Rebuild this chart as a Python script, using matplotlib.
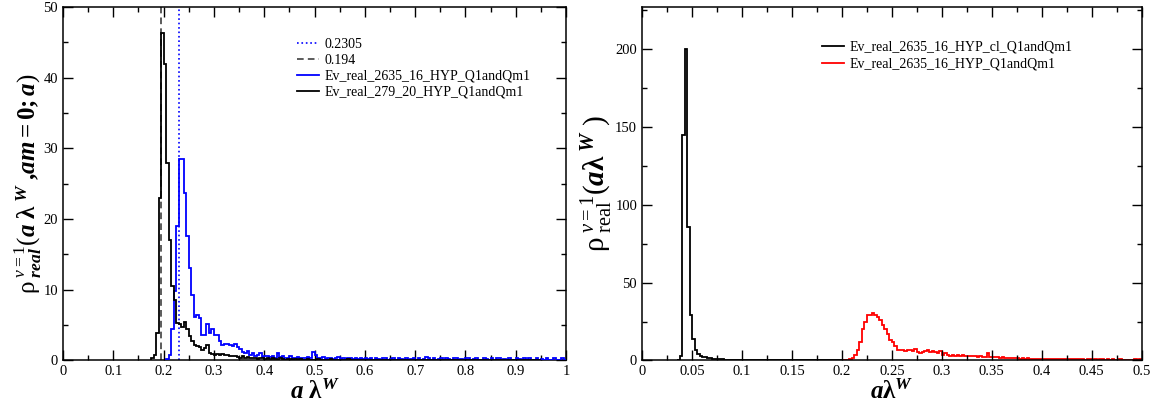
import matplotlib.pyplot as plt
import numpy as np

plt.rcParams['font.family'] = ['Liberation Serif', 'DejaVu Serif']
plt.rcParams['mathtext.fontset'] = 'custom'
plt.rcParams['mathtext.rm'] = 'Liberation Serif'
plt.rcParams['mathtext.it'] = 'Liberation Serif:italic'
plt.rcParams['mathtext.bf'] = 'Liberation Serif:bold'
plt.rcParams['mathtext.bfit'] = 'Liberation Serif:bold:italic'

# ---- left panel data: histogram, bin width 0.005 ----
left_bin = 0.005
black_left_start = 0.175
black_left = [
    0.3, 0.8, 3.9, 23.0, 46.3, 42.0, 28.0, 17.0, 10.5, 8.6,
    5.3, 5.1, 4.8, 5.4, 4.5, 3.4, 2.8, 2.2, 2.0, 1.9,
    1.5, 1.7, 2.2, 1.1, 0.9, 0.8, 0.9, 0.8, 0.85, 0.8,
    0.8, 0.6, 0.7, 0.6, 0.5, 0.4, 0.6, 0.3, 0.5, 0.4,
    0.3, 0.4, 0.2, 0.3, 0.4, 0.2, 0.3, 0.2, 0.3, 0.2,
    0.1, 0.3, 0.2, 0.1, 0.2, 0.2, 0.1, 0.2, 0.1, 0.2,
    0.1, 0.1, 0.2, 0.1, 0.1, 0.1, 0.2, 0.1, 0.0, 0.1,
    0.1, 0.2, 0.1, 0.0, 0.1, 0.1, 0.0, 0.1, 0.2, 0.1,
    0.0, 0.1, 0.1, 0.0, 0.1, 0.0, 0.1, 0.1, 0.0, 0.1,
    0.0, 0.1, 0.0, 0.1, 0.1, 0.0, 0.1, 0.0, 0.0, 0.1,
    0.1, 0.0, 0.1, 0.0, 0.0, 0.1, 0.0, 0.1, 0.0, 0.0,
    0.1, 0.0, 0.0, 0.1, 0.0, 0.0, 0.1, 0.0, 0.0, 0.0,
    0.1, 0.0, 0.0, 0.1, 0.0, 0.0, 0.0, 0.1, 0.0, 0.0,
    0.0, 0.1, 0.0, 0.0, 0.0, 0.1, 0.0, 0.0, 0.0, 0.0,
    0.1, 0.0, 0.0, 0.0, 0.0, 0.1, 0.0, 0.0, 0.0, 0.0,
    0.0, 0.1, 0.0, 0.0, 0.0,
]
blue_left_start = 0.205
blue_left = [
    0.2, 0.8, 4.4, 9.8, 19.0, 28.5, 28.5, 23.7, 17.6, 13.1,
    9.3, 6.2, 6.5, 6.0, 3.6, 3.6, 5.2, 3.9, 4.4, 3.6,
    3.6, 2.8, 2.2, 2.4, 2.3, 2.2, 2.0, 2.3, 1.9, 1.6,
    1.2, 1.0, 1.3, 0.8, 1.0, 0.6, 0.8, 1.0, 0.5, 0.7,
    0.6, 0.5, 0.7, 0.4, 1.0, 0.5, 0.6, 0.3, 0.4, 0.6,
    0.3, 0.4, 0.5, 0.3, 0.4, 0.3, 0.5, 0.3, 1.2, 0.8,
    0.4, 0.3, 0.5, 0.2, 0.3, 0.4, 0.2, 0.3, 0.5, 0.2,
    0.3, 0.2, 0.4, 0.3, 0.2, 0.3, 0.2, 0.3, 0.2, 0.4,
    0.2, 0.3, 0.0, 0.3, 0.2, 0.0, 0.3, 0.3, 0.0, 0.2,
    0.3, 0.0, 0.3, 0.2, 0.0, 0.3, 0.0, 0.2, 0.3, 0.0,
    0.3, 0.0, 0.2, 0.5, 0.3, 0.0, 0.3, 0.0, 0.2, 0.3,
    0.0, 0.3, 0.2, 0.0, 0.3, 0.3, 0.0, 0.2, 0.0, 0.3,
    0.3, 0.0, 0.2, 0.3, 0.0, 0.0, 0.3, 0.2, 0.0, 0.3,
    0.0, 0.3, 0.3, 0.0, 0.2, 0.0, 0.3, 0.0, 0.0, 0.3,
    0.2, 0.0, 0.3, 0.0, 0.3, 0.0, 0.0, 0.3, 0.0, 0.2,
    0.0, 0.3, 0.0, 0.0, 0.3, 0.0, 0.0, 0.3, 0.0,
]
vline_blue = 0.2305
vline_black = 0.194

# ---- right panel data: histogram, bin width 0.0025 ----
right_bin = 0.0025
black_right_start = 0.035
black_right = [
    0.3, 3.0, 145.0, 200.0, 86.0, 29.0, 14.0, 7.0, 4.0, 3.0,
    2.5, 2.0, 1.5, 1.5, 1.2, 1.0, 1.0, 0.8, 0.8, 0.6,
    0.6, 0.5, 0.5, 0.4, 0.4, 0.3, 0.4, 0.3, 0.3, 0.3,
    0.2, 0.3, 0.2, 0.3, 0.2, 0.2, 0.3, 0.2, 0.2, 0.3,
    0.2, 0.2, 0.1, 0.2, 0.2, 0.1, 0.2, 0.2, 0.1, 0.2,
    0.1, 0.2, 0.1, 0.1, 0.2, 0.1, 0.1, 0.2, 0.1, 0.1,
    0.1, 0.1, 0.2, 0.1, 0.1, 0.1, 0.1, 0.1,
]
red_right_start = 0.2
red_right = [
    0.3, 0.3, 0.5, 0.8, 1.7, 3.8, 7.0, 11.7, 20.0, 24.6,
    29.5, 29.0, 30.5, 29.5, 28.0, 25.8, 23.0, 20.3, 16.7, 13.0,
    11.7, 9.2, 7.0, 6.6, 6.5, 6.4, 6.6, 6.5, 6.4, 7.3,
    5.3, 4.9, 5.3, 6.0, 6.6, 5.3, 6.0, 5.3, 4.9, 6.0,
    3.8, 4.5, 3.8, 3.2, 3.6, 2.8, 3.8, 3.2, 3.6, 2.8,
    2.8, 3.0, 2.6, 2.8, 2.4, 2.6, 2.2, 2.4, 4.5, 2.4,
    2.2, 2.0, 2.4, 1.8, 2.0, 1.6, 1.8, 1.5, 1.7, 1.4,
    1.5, 1.2, 1.4, 1.1, 1.3, 1.0, 1.2, 1.0, 0.9, 1.1,
    1.0, 1.2, 0.9, 1.1, 1.0, 0.8, 1.1, 0.9, 0.8, 1.0,
    0.7, 0.9, 0.8, 0.7, 1.0, 0.7, 0.8, 0.6, 0.8, 0.7,
    0.6, 0.8, 0.6, 0.7, 0.9, 0.6, 0.7, 0.5, 0.7, 0.6,
    0.5, 0.7, 0.5, 0.6, 0.5, 0.6, 0.5, 0.7, 0.5, 0.8,
]


def edges(start, width, vals):
    return start + width * np.arange(len(vals) + 1)


def style_axes(ax):
    ax.tick_params(which='both', direction='in', top=True, right=True, labelsize=10.5)
    ax.tick_params(which='major', length=7, width=1)
    ax.tick_params(which='minor', length=3.5, width=1)
    for s in ax.spines.values():
        s.set_linewidth(1.1)


fig = plt.figure(figsize=(11.5, 4.11), dpi=100)

# left panel
ax1 = fig.add_axes([0.0548, 0.1229, 0.4374, 0.8601])
ax1.axvline(vline_blue, color='#0000ff', ls=':', lw=1.2, label='0.2305')
ax1.axvline(vline_black, color='#404040', ls=(0, (4, 2.5)), lw=1.2, label='0.194')
ax1.stairs(blue_left, edges(blue_left_start, left_bin, blue_left), color='#0000ff', lw=1.3,
           label='Ev_real_2635_16_HYP_Q1andQm1', zorder=3)
ax1.stairs(black_left, edges(black_left_start, left_bin, black_left), color='black', lw=1.3,
           label='Ev_real_279_20_HYP_Q1andQm1', zorder=4)
ax1.set_xlim(0, 1)
ax1.set_ylim(0, 50)
ax1.set_xticks(np.arange(0, 1.01, 0.1))
ax1.set_xticklabels(['0', '0.1', '0.2', '0.3', '0.4', '0.5', '0.6', '0.7', '0.8', '0.9', '1'])
ax1.set_xticks(np.arange(0.05, 1, 0.1), minor=True)
ax1.set_yticks(np.arange(0, 51, 10))
ax1.set_yticks(np.arange(5, 50, 10), minor=True)
style_axes(ax1)
ax1.set_xlabel(r'$\mathbfit{a}\ \mathbf{\lambda}^{\mathbfit{W}}$', fontsize=18, labelpad=1)
ax1.set_ylabel(r'$\mathrm{\rho}^{\ \nu=1}_{\ \mathbfit{real}}(\mathbfit{a}\ \mathbf{\lambda}^{\ \mathbfit{W}}\ \mathbf{,}\mathbfit{am}\mathbf{=0;}\mathbfit{a})$',
               fontsize=18, labelpad=0)
ax1.legend(loc='upper left', bbox_to_anchor=(0.465, 0.912), frameon=False, fontsize=10,
           borderpad=0, borderaxespad=0, handlelength=1.6, handletextpad=0.4, labelspacing=0.2)

# right panel
ax2 = fig.add_axes([0.5583, 0.1229, 0.4345, 0.8601])
ax2.stairs(black_right, edges(black_right_start, right_bin, black_right), color='black', lw=1.3,
           label='Ev_real_2635_16_HYP_cl_Q1andQm1')
ax2.stairs(red_right, edges(red_right_start, right_bin, red_right), color='#ff0000', lw=1.3,
           label='Ev_real_2635_16_HYP_Q1andQm1')
ax2.set_xlim(0, 0.5)
ax2.set_ylim(0, 227)
ax2.set_xticks(np.arange(0, 0.501, 0.05))
ax2.set_xticklabels(['0', '0.05', '0.1', '0.15', '0.2', '0.25', '0.3', '0.35', '0.4', '0.45', '0.5'])
ax2.set_xticks(np.arange(0.025, 0.5, 0.05), minor=True)
ax2.set_yticks(np.arange(0, 201, 50))
ax2.set_yticks(np.arange(25, 226, 50), minor=True)
style_axes(ax2)
ax2.set_xlabel(r'$\mathbfit{a}\mathbf{\lambda}^{\mathbfit{W}}$', fontsize=18, labelpad=1)
ax2.set_ylabel(r'$\mathrm{\rho}^{\ \nu=1}_{\ \mathrm{real}}(\mathbfit{a}\mathbf{\lambda}^{\ \mathbfit{W}}\ )$',
               fontsize=21, labelpad=0)
ax2.legend(loc='upper left', bbox_to_anchor=(0.36, 0.905), frameon=False, fontsize=10,
           borderpad=0, borderaxespad=0, handlelength=1.6, handletextpad=0.4, labelspacing=0.3)

fig.savefig('out.png', dpi=100)
